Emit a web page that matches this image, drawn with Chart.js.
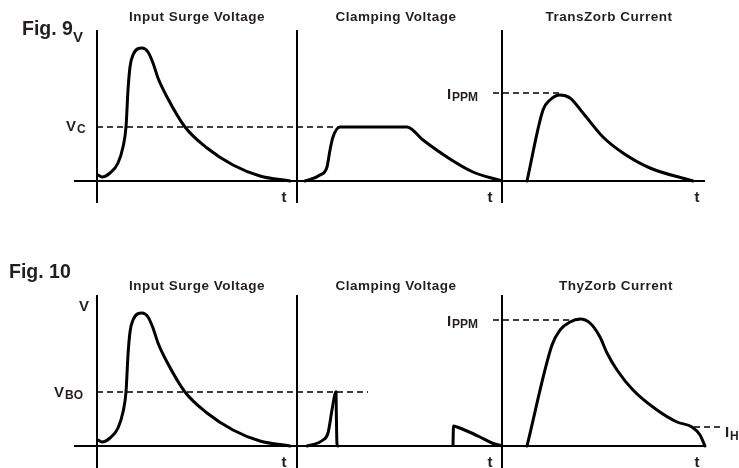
<!DOCTYPE html>
<html>
<head>
<meta charset="utf-8">
<script src="https://cdn.jsdelivr.net/npm/chart.js"></script>
<style>
  html, body { margin: 0; padding: 0; background: #fff; }
</style>
</head>
<body>
<canvas id="figs" width="739" height="468"></canvas>
<script>
// waveforms, panel local: [t, value above baseline]
const surgeWave = [[1,6],[5,4],[13,8],[21,18],[26,34],[29,54],[31,91],[33,114],[36,126],[45,133],[51,129],[56,118],[61,103],[70,84],[88,54],[110,33],[136,16],[163,5],[193,0]];
const clampWave = [[8,0],[23,6],[30,14],[33,31],[36,44],[43,54],[110,54],[126,41],[150,24],[176,9],[205,0]];
const transzorbCurrent = [[25,0],[41,71],[48,81],[58,86],[68,83],[81,68],[101,44],[121,28],[148,13],[191,0]];
const clampSpike = [[10,0],[26,6],[31,13],[35,36],[38,52],[39,54]];
const spikeDrop = [[39,54],[40,2],[41,0]];
const clampTail = [[156,1],[156.5,20],[160,19],[170,15],[183,9],[195,3],[205,0]];
const thyzorbCurrent = [[25,0],[50,101],[58,116],[68,124],[78,127],[88,123],[98,109],[105,93],[115,76],[131,56],[155,36],[175,24],[190,19],[198,11],[203,0]];

// reference levels
const vClamp = 54;
const ippm9 = 88;
const vBreakover = 54;
const ippm10 = 126;
const iHold = 19;

// layout: panel axes and row baselines (canvas units, y measured from bottom)
const axisX = [97, 297, 502];
const rowBase = [287, 22];
const axisTop = 151, axisBelow = -22;

function place(pts, panel, row) {
  return pts.map(p => ({ x: axisX[panel] + p[0], y: rowBase[row] + p[1] }));
}
function seg(x1, x2, y) { return [{ x: x1, y: y }, { x: x2, y: y }]; }

const datasets = [];
function curve(pts, panel, row) {
  datasets.push({ data: place(pts, panel, row), borderColor: '#000', borderWidth: 3, cubicInterpolationMode: 'monotone', borderCapStyle: 'round', borderJoinStyle: 'round' });
}
function axisLine(data) {
  datasets.push({ data: data, borderColor: '#000', borderWidth: 2, tension: 0 });
}
function dash(data) {
  datasets.push({ data: data, borderColor: '#000', borderWidth: 1.5, borderDash: [6, 4], tension: 0 });
}

// axes
for (let r = 0; r < 2; r++) {
  axisLine(seg(74, 705, rowBase[r]));
  for (let p = 0; p < 3; p++) {
    axisLine([{ x: axisX[p], y: rowBase[r] + axisBelow }, { x: axisX[p], y: rowBase[r] + axisTop }]);
  }
}

// dashed levels
dash(seg(97, 340, rowBase[0] + vClamp));
dash(seg(493, 562, rowBase[0] + ippm9));
dash(seg(97, 368, rowBase[1] + vBreakover));
dash(seg(493, 580, rowBase[1] + ippm10));
dash(seg(694, 722, rowBase[1] + iHold));

// Fig. 9
curve(surgeWave, 0, 0);
curve(clampWave, 1, 0);
curve(transzorbCurrent, 2, 0);
// Fig. 10
curve(surgeWave, 0, 1);
curve(clampSpike, 1, 1);
curve(spikeDrop, 1, 1);
curve(clampTail, 1, 1);
curve(thyzorbCurrent, 2, 1);

const FONT = '"Liberation Sans", Arial, Helvetica, sans-serif';

const textPlugin = {
  id: 'figText',
  afterDraw(chart) {
    const ctx = chart.ctx;
    ctx.save();
    ctx.fillStyle = '#231f20';
    ctx.textBaseline = 'alphabetic';

    function txt(s, x, y, size, align, spacing) {
      ctx.font = 'bold ' + size + 'px ' + FONT;
      ctx.textAlign = align || 'left';
      ctx.letterSpacing = (spacing || 0) + 'px';
      ctx.fillText(s, x, y);
    }

    // titles
    const titles = [
      ['Input Surge Voltage', 197, 21], ['Clamping Voltage', 396, 21], ['TransZorb Current', 609, 21],
      ['Input Surge Voltage', 197, 290], ['Clamping Voltage', 396, 290], ['ThyZorb Current', 616, 290]
    ];
    titles.forEach(t => txt(t[0], t[1], t[2], 13.5, 'center', 0.5));

    // time labels
    [202, 467].forEach(y => {
      [284, 490, 697].forEach(x => txt('t', x, y, 15, 'center'));
    });

    // figure labels
    txt('Fig. 9', 22, 35, 19.5);
    txt('V', 73, 42, 15);
    txt('Fig. 10', 9, 278, 19.5);
    txt('V', 79, 311, 15);

    // level labels
    txt('V', 66, 131, 15);
    txt('C', 77, 133, 12);
    txt('V', 54, 397, 15);
    txt('BO', 65, 399, 12);
    txt('I', 447, 99, 15);
    txt('PPM', 452, 101, 12);
    txt('I', 447, 326, 15);
    txt('PPM', 452, 328, 12);
    txt('I', 725, 437, 15);
    txt('H', 730, 440, 12);
    ctx.restore();
  }
};

new Chart(document.getElementById('figs'), {
  type: 'scatter',
  data: { datasets: datasets },
  options: {
    responsive: false,
    animation: false,
    showLine: true,
    elements: { point: { radius: 0, hoverRadius: 0 } },
    layout: { padding: 0 },
    plugins: { legend: { display: false }, tooltip: { enabled: false } },
    scales: {
      x: { type: 'linear', min: 0, max: 739, display: false },
      y: { type: 'linear', min: 0, max: 468, display: false }
    }
  },
  plugins: [textPlugin]
});
</script>
</body>
</html>
